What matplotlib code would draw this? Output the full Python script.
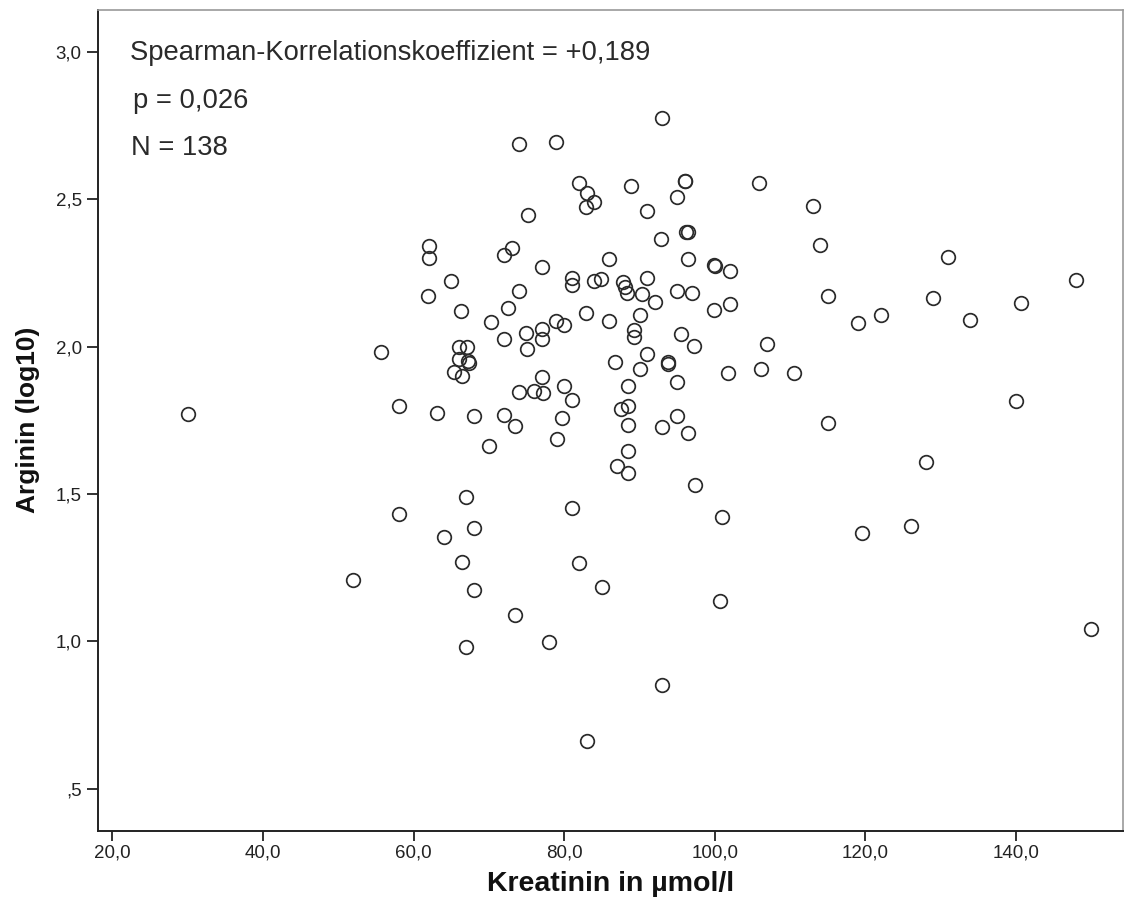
import matplotlib
matplotlib.use("Agg")
import matplotlib.pyplot as plt

plt.rcParams['font.family'] = ['Liberation Sans', 'DejaVu Sans']

# Kreatinin (umol/l) and Arginin (log10)
kreatinin = [
    30.1, 55.7, 58.0, 58.0, 52.0, 74.0, 78.9, 93.0,
    82.0, 83.0, 84.0, 82.9, 75.2, 62.0, 62.0, 73.0, 72.0, 77.0,
    81.0, 81.0, 84.0, 84.9, 65.0, 61.9, 74.0, 72.6, 66.3, 82.9,
    70.3, 78.9, 80.0, 77.1, 77.1, 74.9, 72.0, 66.0, 67.1, 75.0,
    88.9, 96.0, 96.0, 105.9, 95.0, 91.0, 96.2, 96.5, 92.9, 86.0,
    96.4, 99.9, 100.0, 102.0, 87.8, 88.1, 88.3, 91.0, 90.3, 92.0,
    95.0, 97.0, 99.9, 102.0, 86.0, 90.0, 89.2, 89.2, 95.5, 97.2,
    106.9, 91.0, 66.0, 67.4, 67.2, 65.4, 66.4, 77.0, 74.0, 76.0,
    77.2, 80.0, 81.0, 63.1, 68.0, 72.0, 73.4, 79.7, 79.0, 70.0,
    67.0, 81.0, 68.0, 64.0, 86.7, 90.0, 93.8, 93.8, 101.7, 106.1,
    88.5, 95.0, 87.5, 88.5, 88.5, 93.0, 95.0, 96.4, 88.5, 87.0,
    88.5, 97.4, 100.9, 113.0, 114.0, 130.9, 147.9, 115.0, 119.0, 122.0,
    129.0, 133.9, 140.7, 110.5, 115.0, 140.0, 128.0, 119.5, 126.0, 149.9,
    66.4, 68.0, 82.0, 85.0, 73.4, 78.0, 67.0, 93.0, 83.0, 100.7,
]
arginin = [
    1.770, 1.982, 1.799, 1.431, 1.207, 2.687, 2.694, 2.777,
    2.556, 2.522, 2.491, 2.472, 2.446, 2.342, 2.302, 2.336, 2.309, 2.270,
    2.233, 2.208, 2.222, 2.228, 2.224, 2.172, 2.190, 2.131, 2.119, 2.114,
    2.084, 2.087, 2.074, 2.059, 2.027, 2.047, 2.027, 1.998, 1.998, 1.991,
    2.545, 2.562, 2.560, 2.556, 2.509, 2.459, 2.388, 2.388, 2.364, 2.297,
    2.298, 2.276, 2.274, 2.256, 2.218, 2.203, 2.182, 2.232, 2.177, 2.150,
    2.188, 2.180, 2.123, 2.144, 2.086, 2.107, 2.056, 2.031, 2.042, 2.001,
    2.008, 1.974, 1.956, 1.943, 1.950, 1.913, 1.901, 1.897, 1.845, 1.850,
    1.844, 1.866, 1.818, 1.775, 1.765, 1.766, 1.732, 1.757, 1.685, 1.663,
    1.489, 1.451, 1.385, 1.352, 1.948, 1.924, 1.948, 1.940, 1.909, 1.924,
    1.867, 1.878, 1.787, 1.797, 1.733, 1.728, 1.763, 1.706, 1.645, 1.595,
    1.571, 1.531, 1.421, 2.476, 2.345, 2.303, 2.225, 2.170, 2.080, 2.108,
    2.165, 2.089, 2.147, 1.911, 1.739, 1.816, 1.607, 1.368, 1.391, 1.042,
    1.270, 1.174, 1.265, 1.185, 1.088, 0.997, 0.980, 0.853, 0.663, 1.136,
]

x_ticks = [20, 40, 60, 80, 100, 120, 140]
x_labels = ["20,0", "40,0", "60,0", "80,0", "100,0", "120,0", "140,0"]
y_ticks = [0.5, 1.0, 1.5, 2.0, 2.5, 3.0]
y_labels = [",5", "1,0", "1,5", "2,0", "2,5", "3,0"]

stats_lines = ["Spearman-Korrelationskoeffizient = +0,189", "p = 0,026", "N = 138"]

fig = plt.figure(figsize=(11.39, 9.16), dpi=100)
ax = fig.add_axes([0.0858, 0.0931, 0.9002, 0.8960])

ax.plot(kreatinin, arginin, linestyle="none", marker="o", markersize=9.8,
        markerfacecolor="none", markeredgecolor="#2a2a2a", markeredgewidth=1.25)

ax.set_xlim(18.06, 154.2)
ax.set_ylim(0.357, 3.142)

ax.set_xticks(x_ticks)
ax.set_xticklabels(x_labels)
ax.set_yticks(y_ticks)
ax.set_yticklabels(y_labels)
ax.tick_params(axis="both", direction="out", length=7, width=1.3,
               labelsize=13.5, colors="#222222")
ax.tick_params(axis="x", pad=3)
ax.tick_params(axis="y", length=8, pad=3.5)

for side in ["left", "bottom"]:
    ax.spines[side].set_color("#222222")
    ax.spines[side].set_linewidth(1.4)
for side in ["top", "right"]:
    ax.spines[side].set_color("#9a9a9a")
    ax.spines[side].set_linewidth(1.2)

fig.text(611 / 1139, 1 - 884 / 916, "Kreatinin in µmol/l", fontsize=20.5,
         fontweight="bold", color="#111111", ha="center", va="center")
fig.text(28 / 1139, 1 - 420 / 916, "Arginin (log10)", fontsize=19,
         fontweight="bold", color="#111111", ha="center", va="center",
         rotation=90)

stats_x = [130, 133, 131]
for i, line in enumerate(stats_lines):
    fig.text(stats_x[i] / 1139, 1 - (53 + 47.5 * i) / 916, line,
             fontsize=19.7, color="#2a2a2a", va="center", ha="left")

fig.savefig("out.png", dpi=100)
